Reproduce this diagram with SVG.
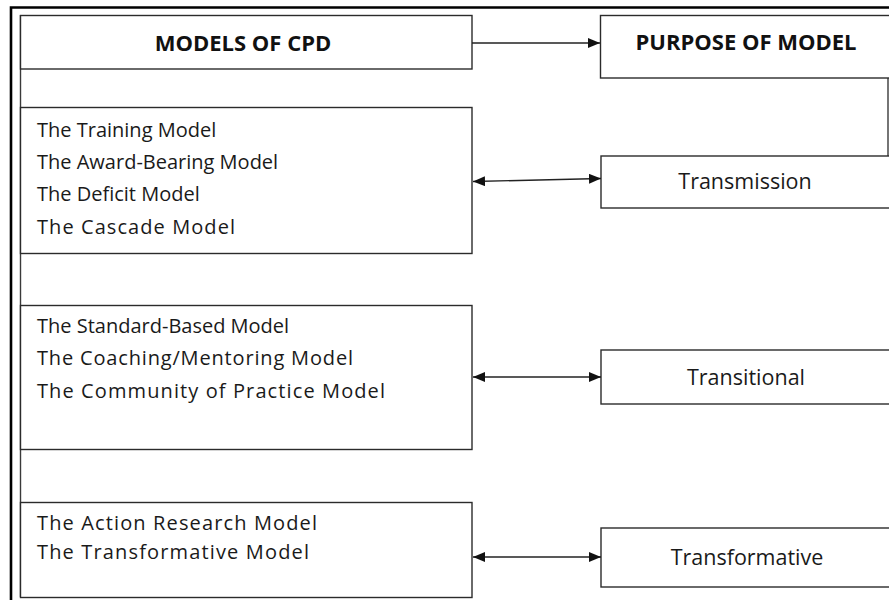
<svg xmlns="http://www.w3.org/2000/svg" width="889" height="600" viewBox="0 0 889 600">
  <style>
    .box { fill: #ffffff; stroke: #2b2b2b; stroke-width: 1.4; }
    .frame { fill: none; stroke: #000000; stroke-width: 2.6; }
    .rule { fill: none; stroke: #3a3a3a; stroke-width: 1.4; }
    .link { fill: none; stroke: #222222; stroke-width: 1.4; }
    .head { font-family: "Open Sans", "Noto Sans", "Liberation Sans", sans-serif; font-weight: bold; font-size: 22px; fill: #111111; }
    .item { font-family: "Open Sans", "Noto Sans", "Liberation Sans", sans-serif; font-size: 20px; fill: #1a1a1a; }
    .purpose { font-family: "Open Sans", "Noto Sans", "Liberation Sans", sans-serif; font-size: 21.5px; fill: #1a1a1a; }
  </style>
  <defs>
    <marker id="tip" viewBox="0 0 12 10" refX="12" refY="5" markerWidth="12" markerHeight="10" markerUnits="userSpaceOnUse" orient="auto-start-reverse">
      <path d="M0,0 L12,5 L0,10 Z" fill="#111111"/>
    </marker>
  </defs>

  <rect width="889" height="600" fill="#ffffff"/>

  <!-- outer frame: left and top edges -->
  <path class="frame" d="M11,600 V7.5 H889"/>

  <!-- left rule joining the model column -->
  <path class="rule" d="M20.5,15 V597"/>
  <!-- right rule below the purpose header -->
  <path class="rule" d="M888,15 V156"/>

  <g id="models-header">
    <rect class="box" x="20.5" y="15.5" width="451.5" height="53.5"/>
    <text class="head" x="243" y="51" text-anchor="middle">MODELS OF CPD</text>
  </g>

  <g id="purpose-header">
    <rect class="box" x="600.5" y="15.5" width="300" height="62.5"/>
    <text class="head" x="746" y="50" text-anchor="middle">PURPOSE OF MODEL</text>
  </g>

  <g id="models-transmission">
    <rect class="box" x="20.5" y="107.5" width="451.5" height="146"/>
    <text class="item" x="37" y="137">The Training Model</text>
    <text class="item" x="37" y="169">The Award-Bearing Model</text>
    <text class="item" x="37" y="201">The Deficit Model</text>
    <text class="item" x="37" y="234" textLength="198">The Cascade Model</text>
  </g>

  <g id="models-transitional">
    <rect class="box" x="20.5" y="305.5" width="451.5" height="144"/>
    <text class="item" x="37" y="333">The Standard-Based Model</text>
    <text class="item" x="37" y="365" textLength="316">The Coaching/Mentoring Model</text>
    <text class="item" x="37" y="398" textLength="348">The Community of Practice Model</text>
  </g>

  <g id="models-transformative">
    <rect class="box" x="20.5" y="502.5" width="451.5" height="95"/>
    <text class="item" x="37" y="530" textLength="280">The Action Research Model</text>
    <text class="item" x="37" y="559" textLength="272">The Transformative Model</text>
  </g>

  <g id="purpose-transmission">
    <rect class="box" x="601" y="156" width="300" height="52"/>
    <text class="purpose" x="745" y="189" text-anchor="middle">Transmission</text>
  </g>

  <g id="purpose-transitional">
    <rect class="box" x="601" y="350" width="300" height="54"/>
    <text class="purpose" x="746" y="385" text-anchor="middle">Transitional</text>
  </g>

  <g id="purpose-transformative">
    <rect class="box" x="601" y="528" width="300" height="59"/>
    <text class="purpose" x="747" y="565" text-anchor="middle">Transformative</text>
  </g>

  <g id="connectors">
    <line class="link" x1="472" y1="43" x2="600" y2="43" marker-end="url(#tip)"/>
    <line class="link" x1="473" y1="181.5" x2="601" y2="178.5" marker-start="url(#tip)" marker-end="url(#tip)"/>
    <line class="link" x1="473" y1="377" x2="601" y2="377" marker-start="url(#tip)" marker-end="url(#tip)"/>
    <line class="link" x1="473" y1="557" x2="601" y2="557" marker-start="url(#tip)" marker-end="url(#tip)"/>
  </g>
</svg>
